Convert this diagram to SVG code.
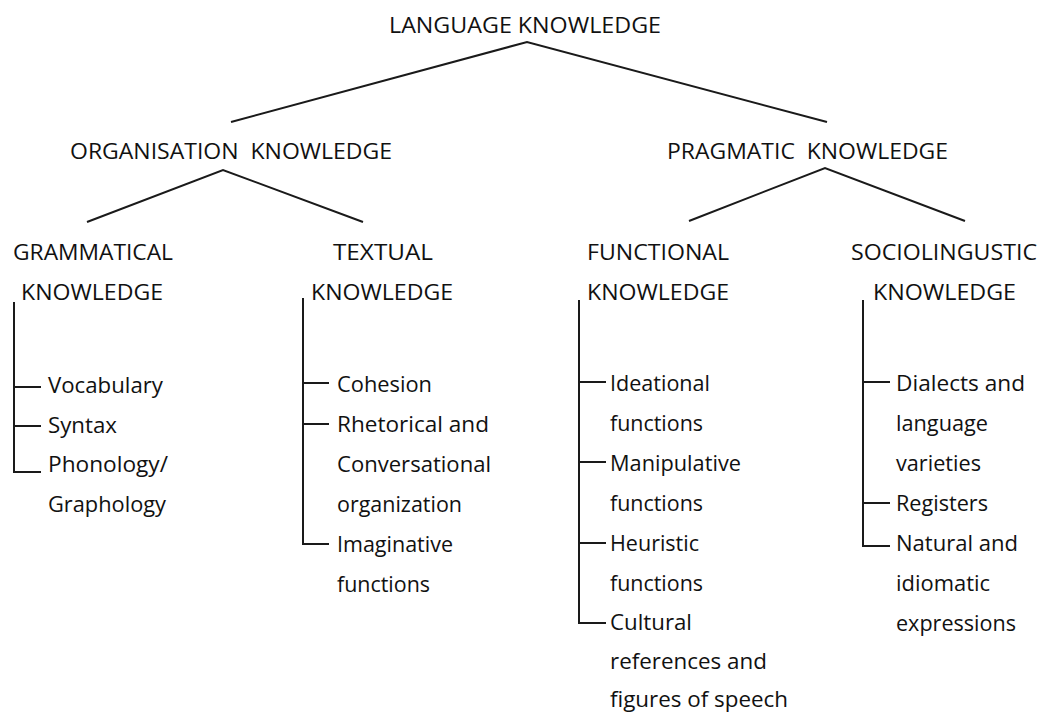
<svg xmlns="http://www.w3.org/2000/svg" width="1040" height="713" viewBox="0 0 1040 713">
<style>
.h{font-family:"Open Sans","DejaVu Sans",sans-serif;font-size:22px;fill:#111}
.b{font-family:"Open Sans","DejaVu Sans",sans-serif;font-size:22px;fill:#111}
.c{stroke:#1a1a1a;stroke-width:2;fill:none}
</style>
<rect width="1040" height="713" fill="#fff"/>
<g id="connectors">
<polyline class="c" points="231,122 527,42 827,122"/>
<polyline class="c" points="87,222 223,170 363,222"/>
<polyline class="c" points="689,221 825,168 965,221"/>
<path class="c" d="M14,302V472H41M14,387H41M14,426H41"/>
<path class="c" d="M303,298V544H329M303,383H329M303,424H329"/>
<path class="c" d="M579,300V623H606M579,382H606M579,462H606M579,543H606"/>
<path class="c" d="M863,300V546H890M863,382H890M863,503H890"/>
</g>
<g id="language-knowledge"><text class="h" x="389" y="33" textLength="272" lengthAdjust="spacingAndGlyphs">LANGUAGE KNOWLEDGE</text></g>
<g id="organisation-knowledge"><text class="h" x="70" y="159" textLength="322" lengthAdjust="spacingAndGlyphs" xml:space="preserve">ORGANISATION  KNOWLEDGE</text></g>
<g id="pragmatic-knowledge"><text class="h" x="667" y="159" textLength="281" lengthAdjust="spacingAndGlyphs" xml:space="preserve">PRAGMATIC  KNOWLEDGE</text></g>
<g id="grammatical-knowledge">
<text class="h" x="13" y="260" textLength="160" lengthAdjust="spacingAndGlyphs">GRAMMATICAL</text>
<text class="h" x="21" y="300" textLength="142" lengthAdjust="spacingAndGlyphs">KNOWLEDGE</text>
<text class="b" x="48" y="393" textLength="115" lengthAdjust="spacingAndGlyphs">Vocabulary</text>
<text class="b" x="48" y="433" textLength="69" lengthAdjust="spacingAndGlyphs">Syntax</text>
<text class="b" x="48" y="472" textLength="120" lengthAdjust="spacingAndGlyphs">Phonology/</text>
<text class="b" x="48" y="512" textLength="118" lengthAdjust="spacingAndGlyphs">Graphology</text>
</g>
<g id="textual-knowledge">
<text class="h" x="333" y="260" textLength="100" lengthAdjust="spacingAndGlyphs">TEXTUAL</text>
<text class="h" x="311" y="300" textLength="142" lengthAdjust="spacingAndGlyphs">KNOWLEDGE</text>
<text class="b" x="337" y="392" textLength="95" lengthAdjust="spacingAndGlyphs">Cohesion</text>
<text class="b" x="337" y="432" textLength="152" lengthAdjust="spacingAndGlyphs">Rhetorical and</text>
<text class="b" x="337" y="472" textLength="154" lengthAdjust="spacingAndGlyphs">Conversational</text>
<text class="b" x="337" y="512" textLength="125" lengthAdjust="spacingAndGlyphs">organization</text>
<text class="b" x="337" y="552" textLength="116" lengthAdjust="spacingAndGlyphs">Imaginative</text>
<text class="b" x="337" y="592" textLength="93" lengthAdjust="spacingAndGlyphs">functions</text>
</g>
<g id="functional-knowledge">
<text class="h" x="587" y="260" textLength="142" lengthAdjust="spacingAndGlyphs">FUNCTIONAL</text>
<text class="h" x="587" y="300" textLength="142" lengthAdjust="spacingAndGlyphs">KNOWLEDGE</text>
<text class="b" x="610" y="391" textLength="100" lengthAdjust="spacingAndGlyphs">Ideational</text>
<text class="b" x="610" y="431" textLength="93" lengthAdjust="spacingAndGlyphs">functions</text>
<text class="b" x="610" y="471" textLength="131" lengthAdjust="spacingAndGlyphs">Manipulative</text>
<text class="b" x="610" y="511" textLength="93" lengthAdjust="spacingAndGlyphs">functions</text>
<text class="b" x="610" y="551" textLength="89" lengthAdjust="spacingAndGlyphs">Heuristic</text>
<text class="b" x="610" y="591" textLength="93" lengthAdjust="spacingAndGlyphs">functions</text>
<text class="b" x="610" y="630" textLength="82" lengthAdjust="spacingAndGlyphs">Cultural</text>
<text class="b" x="610" y="669" textLength="157" lengthAdjust="spacingAndGlyphs">references and</text>
<text class="b" x="610" y="707" textLength="178" lengthAdjust="spacingAndGlyphs">figures of speech</text>
</g>
<g id="sociolinguistic-knowledge">
<text class="h" x="851" y="260" textLength="186" lengthAdjust="spacingAndGlyphs">SOCIOLINGUSTIC</text>
<text class="h" x="873" y="300" textLength="143" lengthAdjust="spacingAndGlyphs">KNOWLEDGE</text>
<text class="b" x="896" y="391" textLength="129" lengthAdjust="spacingAndGlyphs">Dialects and</text>
<text class="b" x="896" y="431" textLength="92" lengthAdjust="spacingAndGlyphs">language</text>
<text class="b" x="896" y="471" textLength="85" lengthAdjust="spacingAndGlyphs">varieties</text>
<text class="b" x="896" y="511" textLength="92" lengthAdjust="spacingAndGlyphs">Registers</text>
<text class="b" x="896" y="551" textLength="122" lengthAdjust="spacingAndGlyphs">Natural and</text>
<text class="b" x="896" y="591" textLength="94" lengthAdjust="spacingAndGlyphs">idiomatic</text>
<text class="b" x="896" y="631" textLength="120" lengthAdjust="spacingAndGlyphs">expressions</text>
</g>
</svg>
